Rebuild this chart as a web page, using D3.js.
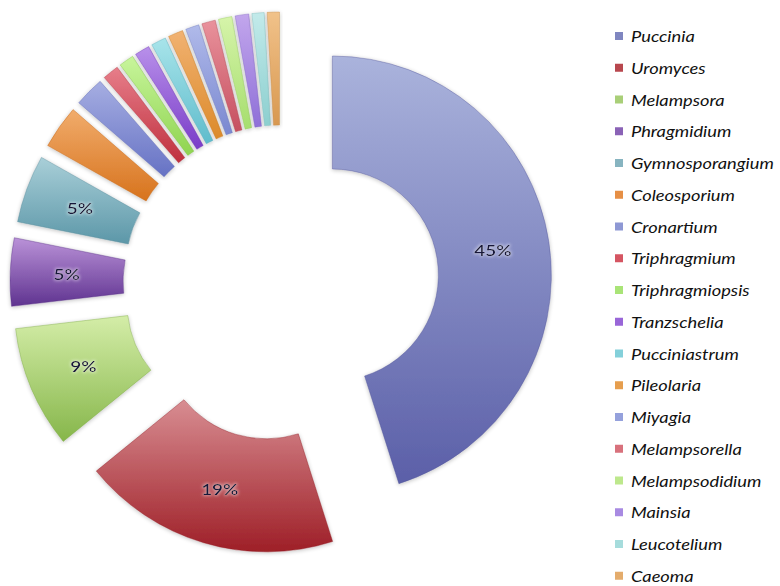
<!DOCTYPE html>
<html>
<head>
<meta charset="utf-8">
<script src="https://cdn.jsdelivr.net/npm/d3@7"></script>
<style>
  html, body { margin: 0; padding: 0; background: #fff; }
  svg { display: block; }
</style>
</head>
<body>
<svg id="chart" width="780" height="586"></svg>
<script>
// Rust fungi genera, share of species (%)
const genera = [
  "Puccinia", "Uromyces", "Melampsora", "Phragmidium", "Gymnosporangium",
  "Coleosporium", "Cronartium", "Triphragmium", "Triphragmiopsis", "Tranzschelia",
  "Pucciniastrum", "Pileolaria", "Miyagia", "Melampsorella", "Melampsodidium",
  "Mainsia", "Leucotelium", "Caeoma"
];
const shares = [
  45, 19, 9, 5, 5,
  3.2, 2.2, 1.2, 1.1, 1.1,
  1.1, 1.1, 1.0, 1.0, 1.0,
  1.0, 0.9, 0.9
];
// light (top) and dark (bottom) tones of each slice
const lightTones = [
  "#aab3dc", "#d88d92", "#d4eda8", "#ba92d8", "#a9cfd8",
  "#f1ac6c", "#a6aee2", "#e77e8a", "#c8f59c", "#b890ea",
  "#a8e4ea", "#f1b272", "#b0baea", "#e9929c", "#d6f4aa",
  "#c2a6ec", "#c2eaea", "#f1c28a"
];
const darkTones = [
  "#5b5fa8", "#9e1f27", "#86b64a", "#5f3390", "#5c97a8",
  "#d7731d", "#6672c4", "#bf303e", "#8fd450", "#7a3cc8",
  "#5fbccc", "#dc8a2a", "#7a88d0", "#c65060", "#a6de6e",
  "#8f70d8", "#8ccfcf", "#d89850"
];
const legendTones = [
  "#7f86c0", "#b8474e", "#a9cf78", "#8a62b6", "#87b4c0",
  "#e68f45", "#8e98d4", "#d55562", "#a9e477", "#9966d8",
  "#84d0da", "#e69e4e", "#95a1dc", "#d8717c", "#bde88c",
  "#a88ae2", "#a6dcdc", "#e4ac6c"
];

const svg = d3.select("#chart");
const cx = 281, cy = 283;
const outerR = 219, innerR = 106, explode = 52;

const data = genera.map((g, i) => ({ name: g, value: shares[i], i }));
const total = d3.sum(shares);

const pie = d3.pie().sort(null).value(d => d.value).startAngle(0).endAngle(2 * Math.PI);
const arc = d3.arc().innerRadius(innerR).outerRadius(outerR);
const arcs = pie(data);

const defs = svg.append("defs");
arcs.forEach(a => {
  const g = defs.append("linearGradient")
    .attr("id", "grad" + a.data.i)
    .attr("x1", 0).attr("y1", 0).attr("x2", 0).attr("y2", 1);
  g.append("stop").attr("offset", "0%").attr("stop-color", lightTones[a.data.i]);
  g.append("stop").attr("offset", "100%").attr("stop-color", darkTones[a.data.i]);
});

// soft shadow around each slice
const shadow = defs.append("filter").attr("id", "soft")
  .attr("x", "-20%").attr("y", "-20%").attr("width", "140%").attr("height", "140%");
shadow.append("feGaussianBlur").attr("in", "SourceAlpha").attr("stdDeviation", 2).attr("result", "b");
shadow.append("feOffset").attr("in", "b").attr("dx", 0).attr("dy", 1).attr("result", "o");
shadow.append("feComponentTransfer").attr("in", "o").attr("result", "s")
  .append("feFuncA").attr("type", "linear").attr("slope", 0.25);
const merge = shadow.append("feMerge");
merge.append("feMergeNode").attr("in", "s");
merge.append("feMergeNode").attr("in", "SourceGraphic");

const textGlow = defs.append("filter").attr("id", "glow")
  .attr("x", "-30%").attr("y", "-30%").attr("width", "160%").attr("height", "160%");
textGlow.append("feMorphology").attr("in", "SourceAlpha").attr("operator", "dilate").attr("radius", 1).attr("result", "d");
textGlow.append("feGaussianBlur").attr("in", "d").attr("stdDeviation", 1.5).attr("result", "db");
textGlow.append("feFlood").attr("flood-color", "#ffffff").attr("flood-opacity", 0.4);
textGlow.append("feComposite").attr("in2", "db").attr("operator", "in").attr("result", "g");
const tm = textGlow.append("feMerge");
tm.append("feMergeNode").attr("in", "g");
tm.append("feMergeNode").attr("in", "SourceGraphic");

const offsetOf = a => {
  const m = (a.startAngle + a.endAngle) / 2;
  return [explode * Math.sin(m), -explode * Math.cos(m)];
};

const slices = svg.append("g").attr("transform", `translate(${cx},${cy})`);
slices.selectAll("path.slice")
  .data(arcs)
  .join("path")
  .attr("class", "slice")
  .attr("transform", a => { const [dx, dy] = offsetOf(a); return `translate(${dx},${dy})`; })
  .attr("d", arc)
  .attr("fill", a => `url(#grad${a.data.i})`)
  .attr("stroke", a => d3.color(darkTones[a.data.i]).darker(0.3).copy({ opacity: 0.5 }))
  .attr("stroke-width", 0.8)
  .attr("filter", "url(#soft)");

// percentage labels for the larger slices
const labelArc = d3.arc().innerRadius((innerR + outerR) / 2).outerRadius((innerR + outerR) / 2);
slices.selectAll("text.pct")
  .data(arcs.filter(a => a.data.value / total >= 0.045))
  .join("text")
  .attr("class", "pct")
  .attr("transform", a => {
    const [dx, dy] = offsetOf(a);
    const [x, y] = labelArc.centroid(a);
    return `translate(${x + dx},${y + dy + 6}) scale(1.18,1)`;
  })
  .attr("text-anchor", "middle")
  .attr("font-family", "Lato, 'Open Sans', sans-serif")
  .attr("font-size", 16)
  .attr("font-weight", 600)
  .attr("fill", "#15153a")
  .attr("filter", "url(#glow)")
  .text(a => Math.round(a.data.value / total * 100) + "%");

// legend
const legend = svg.append("g").attr("transform", "translate(615,37)");
const rowStep = 31.75;
const rows = legend.selectAll("g.row")
  .data(data)
  .join("g")
  .attr("class", "row")
  .attr("transform", d => `translate(0,${d.i * rowStep})`);
rows.append("rect")
  .attr("x", 0).attr("y", -5).attr("width", 8).attr("height", 8)
  .attr("fill", d => legendTones[d.i]);
rows.append("text")
  .attr("transform", "translate(16,5) scale(1.22,1)")
  .attr("font-family", "Lato, 'Open Sans', sans-serif")
  .attr("font-style", "italic")
  .attr("font-size", 15)
  .attr("fill", "#111")
  .text(d => d.name);
</script>
</body>
</html>
